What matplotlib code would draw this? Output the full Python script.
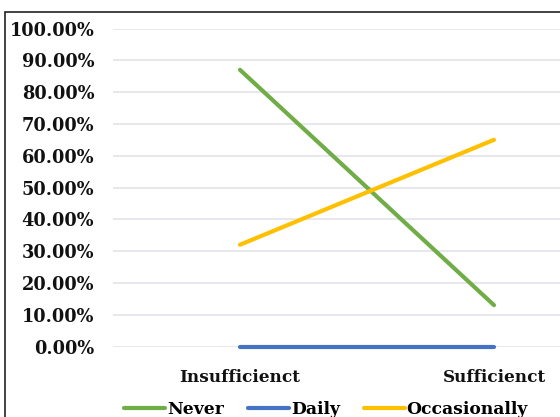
import matplotlib
matplotlib.use("Agg")
import matplotlib.pyplot as plt
from matplotlib.patches import Rectangle
from matplotlib.ticker import PercentFormatter

categories = ["Insufficienct", "Sufficienct"]
never = [0.87, 0.13]
daily = [0.0, 0.0]
occasionally = [0.32, 0.65]
yticks = [0.0, 0.1, 0.2, 0.3, 0.4, 0.5, 0.6, 0.7, 0.8, 0.9, 1.0]

FONT = "DejaVu Serif"
plt.rcParams['font.family'] = [FONT]
plt.rcParams['font.weight'] = 'bold'

fig = plt.figure(figsize=(5.6, 4.17), dpi=100)
W, H = 560, 417
left, right, top, bottom = 113, 621, 28.5, 346.5
ax = fig.add_axes([left / W, 1 - bottom / H, (right - left) / W, (bottom - top) / H])

x = range(len(categories))
lw = 3.0
ax.plot(x, never, color="#70AD47", lw=lw, solid_capstyle='round', label="Never", zorder=3, clip_on=False)
ax.plot(x, daily, color="#4472C4", lw=lw, solid_capstyle='round', label="Daily", zorder=3, clip_on=False)
ax.plot(x, occasionally, color="#FFC000", lw=lw, solid_capstyle='round', label="Occasionally", zorder=3, clip_on=False)

ax.set_xlim(-0.5, len(categories) - 0.5)
ax.set_ylim(0, 1.0)
ax.set_yticks(yticks)
ax.yaxis.set_major_formatter(PercentFormatter(1.0, decimals=2))
ax.set_xticks(list(x))
ax.set_xticklabels(categories)
ax.grid(axis='y', color="#E1E4EA", lw=1.2)
ax.set_axisbelow(True)
for s in ax.spines.values():
    s.set_visible(False)
ax.tick_params(length=0, colors="#111111")
ax.tick_params(axis='y', pad=13.5, labelsize=12.8)
ax.tick_params(axis='x', pad=16, labelsize=12.2)

fig.legend(loc='center', bbox_to_anchor=(326 / W, 1 - 409.5 / H), ncol=3, frameon=False,
           fontsize=12.3, handlelength=2.4, handletextpad=0.12, columnspacing=1.4,
           borderaxespad=0)

fig.add_artist(Rectangle((5 / W, -0.1), 1.2, 1 - 12 / H + 0.1, transform=fig.transFigure,
                         fill=False, edgecolor="#222222", lw=1.2, clip_on=False))

fig.savefig("out.png", dpi=100)
